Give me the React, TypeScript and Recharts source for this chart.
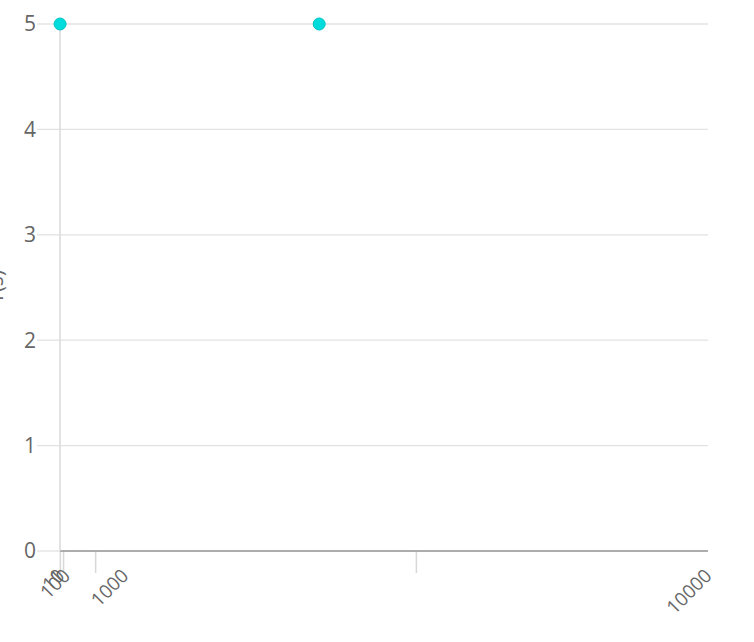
import React from 'react';
import { ScatterChart, Scatter, XAxis, YAxis, CartesianGrid, ReferenceLine } from 'recharts';

// values
const xValues = [1, 4000];
const yValues = [5, 5];
const xTicks = [1, 10, 100, 1000, 10000];
const yTicks = [0, 1, 2, 3, 4, 5];
const yTitle = 'Y(s)';

const points = xValues.map((x, i) => ({ x, y: yValues[i] }));
// chart.js style offset grid: lines sit halfway between ticks
const gridX = xTicks.slice(1).map((t, i) => (t + xTicks[i]) / 2);

const FONT = '"Open Sans", sans-serif';
const TEXT = '#666666';

function XTick({ x, y, payload }: any) {
  return (
    <text
      x={x}
      y={y}
      dy={7}
      transform={`rotate(-45, ${x}, ${y})`}
      textAnchor="end"
      fill={TEXT}
      fontSize={19}
      fontFamily={FONT}
    >
      {payload.value}
    </text>
  );
}

export default function App() {
  return (
    <div style={{ position: 'absolute', left: 0, top: 0, background: '#fff' }}>
      <ScatterChart width={754} height={642} margin={{ top: 24, right: 46, bottom: 0, left: 0 }} style={{ fontFamily: FONT }}>
        <CartesianGrid stroke="#e2e2e2" strokeWidth={1.3} vertical={false} />
        {gridX.map((g) => (
          <ReferenceLine
            key={g}
            x={g}
            stroke="#dadada"
            shape={(p: any) => (
              <line x1={p.x1} y1={p.y1} x2={p.x2} y2={Math.max(p.y1, p.y2) + 22} stroke="#d8d8d8" strokeWidth={1.5} />
            )}
          />
        ))}
        <XAxis
          type="number"
          dataKey="x"
          domain={[0, 10000]}
          ticks={xTicks}
          interval={0}
          tickLine={false}
          tickSize={0}
          tickMargin={21}
          axisLine={{ stroke: '#999999', strokeWidth: 1.5 }}
          height={91}
          tick={<XTick />}
        />
        <YAxis
          type="number"
          dataKey="y"
          domain={[0, 5]}
          ticks={yTicks}
          interval={0}
          width={60}
          tickSize={23}
          tickMargin={1}
          tickLine={{ stroke: '#e2e2e2', strokeWidth: 1.3 }}
          axisLine={{ stroke: '#d8d8d8', strokeWidth: 1.5 }}
          tick={{ fill: TEXT, fontSize: 21, fontFamily: FONT }}
        />
        <Scatter
          data={points}
          isAnimationActive={false}
          shape={(p: any) => <circle cx={p.cx} cy={p.cy} r={6} fill="#00dcdc" stroke="#00c4c4" strokeWidth={1} />}
        />
        <text x={3} y={287} transform="rotate(-90, 3, 287)" textAnchor="middle" fill={TEXT} fontSize={21} fontFamily={FONT}>
          {yTitle}
        </text>
      </ScatterChart>
    </div>
  );
}
